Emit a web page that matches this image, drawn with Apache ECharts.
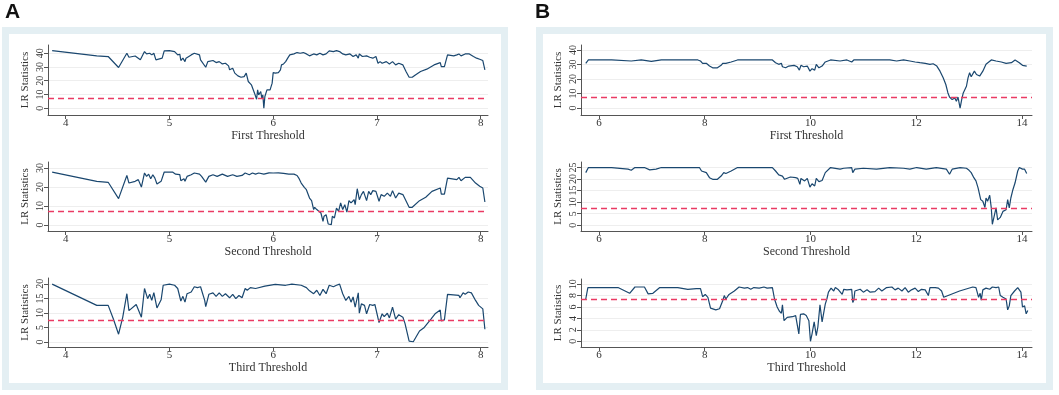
<!DOCTYPE html>
<html>
<head>
<meta charset="utf-8">
<script src="https://cdn.jsdelivr.net/npm/echarts@6/dist/echarts.min.js"></script>
<style>
html, body { margin: 0; padding: 0; background: #fff; }
#chart { width: 1059px; height: 395px; }
</style>
</head>
<body>
<div id="chart"></div>
<script>
// critical value (dashed line) and axis ticks
var critValue = 7.35;
var xTicksA = [4, 5, 6, 7, 8];
var xTicksB = [6, 8, 10, 12, 14];
var yTicksA1 = [0, 10, 20, 30, 40];
var yTicksA2 = [0, 10, 20, 30];
var yTicksA3 = [0, 5, 10, 15, 20];
var yTicksB1 = [0, 10, 20, 30, 40];
var yTicksB2 = [0, 5, 10, 15, 20, 25];
var yTicksB3 = [0, 2, 4, 6, 8, 10];
var names = ['First Threshold', 'Second Threshold', 'Third Threshold'];

// LR statistics, panel A
var a1 = [[3.87,41.9],[4.30,38.1],[4.41,37.6],[4.51,29.6],[4.59,40],[4.61,37.1],[4.67,38],[4.72,35.2],[4.76,41.2],[4.78,39.5],
  [4.81,40],[4.83,38.8],[4.85,40],[4.87,35.2],[4.88,36.4],[4.93,36.4],[4.95,41.7],[5.00,41.9],[5.05,41.2],[5.08,38.8],
  [5.10,39.3],[5.11,34.7],[5.13,36.4],[5.15,33.9],[5.16,36.4],[5.21,38.8],[5.24,40],[5.29,38.8],[5.30,35.2],[5.35,29.8],
  [5.37,33.9],[5.42,34.7],[5.45,33.2],[5.48,33.9],[5.51,32.2],[5.54,32.7],[5.57,30.8],[5.58,27.9],[5.61,29.1],[5.63,25.5],
  [5.64,26.7],[5.66,23.5],[5.69,22.5],[5.70,21.1],[5.72,23],[5.74,25.5],[5.76,19.4],[5.77,18.2],[5.79,17],[5.80,16.2],
  [5.82,10.9],[5.84,6.5],[5.85,13.3],[5.86,9.7],[5.88,12.1],[5.89,7.3],[5.90,9.7],[5.91,0],[5.92,8.5],[5.94,13.3],
  [5.95,12.1],[5.97,13.3],[5.99,18.2],[6.00,25.9],[6.02,25.5],[6.03,26.7],[6.05,25.9],[6.07,27.9],[6.08,31.5],[6.10,32.2],
  [6.12,33.9],[6.14,36.4],[6.16,38.8],[6.20,39.5],[6.23,40.5],[6.26,40],[6.29,40.5],[6.32,39.5],[6.35,38.1],[6.39,39.5],
  [6.42,38.8],[6.45,40],[6.48,38.8],[6.51,39.5],[6.54,41.7],[6.58,41.2],[6.61,41.9],[6.64,41.2],[6.67,39.5],[6.70,38.8],
  [6.74,39.5],[6.77,37.6],[6.80,38.8],[6.82,36.4],[6.83,39.5],[6.86,37.6],[6.90,38.1],[6.93,37.1],[6.96,36.4],[6.99,37.6],
  [7.01,32.7],[7.03,33.9],[7.05,32.7],[7.09,33.9],[7.12,32.2],[7.15,33.9],[7.18,31.5],[7.21,32.7],[7.25,31.5],[7.28,26.7],
  [7.31,22.5],[7.34,22.5],[7.37,24.2],[7.42,26.7],[7.48,28.4],[7.55,31.5],[7.61,33.2],[7.62,30.3],[7.65,30.3],[7.68,38.8],
  [7.74,38.1],[7.77,38.8],[7.79,39.5],[7.81,38.1],[7.85,39.5],[7.89,39.5],[7.93,37.6],[7.96,36.4],[7.99,35.6],[8.02,34.7],[8.04,27.9]];

var a2 = [[3.87,27.9],[4.30,23.0],[4.41,22.5],[4.51,13.9],[4.59,26.1],[4.61,22.1],[4.67,23.0],[4.70,23.9],[4.73,20],[4.76,27.4],
  [4.78,25.6],[4.80,26.8],[4.82,24.4],[4.84,26.5],[4.86,24.7],[4.88,21.6],[4.92,23],[4.95,27.9],[5.03,27.9],[5.06,26.8],
  [5.10,26.5],[5.11,23.3],[5.14,24.4],[5.15,23],[5.17,25.6],[5.21,26.5],[5.24,27.4],[5.29,26.8],[5.31,25.6],[5.35,22.6],
  [5.38,25.6],[5.42,26.5],[5.46,25.6],[5.51,26.8],[5.56,25.6],[5.61,26.5],[5.65,25.6],[5.70,26.1],[5.73,27.4],[5.77,26.5],
  [5.80,27.4],[5.83,26.8],[5.86,27.4],[5.91,26.8],[5.96,27.5],[6.00,27.4],[6.05,27.5],[6.10,27.2],[6.15,26.8],[6.20,26.8],
  [6.23,26.1],[6.25,24.4],[6.27,22.1],[6.30,19.8],[6.32,18.6],[6.35,14.2],[6.37,12.8],[6.39,8.1],[6.40,9.3],[6.42,8.1],
  [6.43,8.9],[6.46,6.3],[6.48,1.9],[6.49,4.6],[6.51,5.4],[6.53,0.5],[6.56,0.2],[6.57,4.6],[6.59,3.7],[6.61,8.9],
  [6.63,7.2],[6.65,11.6],[6.67,8.1],[6.69,10.7],[6.71,6.8],[6.73,12.8],[6.75,11.6],[6.78,13.3],[6.79,10.7],[6.81,19.1],
  [6.83,13.3],[6.85,16],[6.87,17.7],[6.90,12.8],[6.92,17.7],[6.94,16],[6.96,18.1],[6.99,17.7],[7.02,12.5],[7.04,16],
  [7.07,15.1],[7.10,16.8],[7.13,15.1],[7.15,18.1],[7.18,14.2],[7.21,16.8],[7.25,16],[7.26,16.8],[7.31,9.3],[7.34,9.3],
  [7.41,12.8],[7.47,14.6],[7.53,17.7],[7.61,19.5],[7.62,16.3],[7.65,16.3],[7.68,24.7],[7.77,23.9],[7.79,25.1],[7.81,23.3],
  [7.85,25.1],[7.90,25.1],[7.95,22.1],[7.99,20.4],[8.02,19.5],[8.04,12.1]];

var a3 = [[3.87,19.9],[4.30,12.6],[4.41,12.6],[4.46,7.9],[4.51,2.7],[4.55,8.5],[4.59,16.6],[4.61,10.8],[4.68,12.9],[4.73,8.5],
  [4.76,18.4],[4.79,14.9],[4.81,16.4],[4.83,14.3],[4.85,17],[4.88,11.7],[4.92,14.5],[4.94,19.5],[5.00,19.9],[5.05,19.5],
  [5.08,18.4],[5.11,14.1],[5.13,15.7],[5.15,13.7],[5.17,16.6],[5.21,17.2],[5.24,19],[5.27,18.7],[5.30,19],[5.34,14.3],
  [5.35,12.2],[5.38,16.4],[5.42,16.9],[5.45,15.7],[5.48,16.9],[5.51,15.7],[5.54,16.6],[5.58,15.2],[5.61,16.4],[5.64,14.9],
  [5.67,16],[5.70,15.2],[5.73,18.4],[5.75,17.8],[5.78,18.7],[5.83,18.4],[5.92,19.2],[6.02,19.8],[6.12,19.5],[6.18,19.9],
  [6.27,19.5],[6.32,18.7],[6.35,17.6],[6.39,16.6],[6.42,17.8],[6.45,16],[6.48,18.1],[6.51,16.6],[6.54,19.5],[6.58,19],
  [6.61,19.5],[6.64,19.9],[6.67,16.6],[6.70,14.3],[6.73,15.7],[6.75,13.7],[6.77,15.5],[6.79,12],[6.82,16.9],[6.83,9.9],
  [6.85,13.1],[6.88,12.6],[6.90,9.7],[6.93,12.9],[6.96,12.6],[6.98,12.9],[7.02,6.7],[7.05,9.7],[7.07,8.7],[7.10,9.9],
  [7.12,8.3],[7.15,12],[7.18,7.9],[7.21,9.4],[7.25,8.5],[7.27,6.4],[7.31,0.3],[7.35,0.1],[7.41,3.8],[7.45,4.8],
  [7.52,7.9],[7.56,9.7],[7.61,11],[7.62,7.3],[7.65,7.6],[7.68,16.4],[7.79,16],[7.80,15.2],[7.83,16.9],[7.85,16.4],
  [7.88,17.2],[7.91,16.9],[7.95,14.3],[7.98,12.6],[8.02,11.4],[8.04,4.4]];

// LR statistics, panel B
var b1 = [[5.75,30.8],[5.80,33.1],[6.24,33.1],[6.61,32.4],[6.80,33.1],[6.99,32.1],[7.18,33.1],[7.49,33.1],[7.87,33.1],[7.92,32.4],
  [7.96,30.8],[8.03,30.8],[8.09,28.9],[8.15,27.7],[8.24,27.7],[8.31,29.4],[8.34,30.8],[8.40,30.8],[8.50,31.7],[8.62,33.1],
  [8.87,33.1],[9.06,33.1],[9.28,33.1],[9.34,31.2],[9.40,30.1],[9.45,30.8],[9.47,28.4],[9.53,27.7],[9.59,28.9],[9.69,29.4],
  [9.75,28.4],[9.79,26.1],[9.82,29.4],[9.87,28.4],[9.94,28.9],[9.99,25.4],[10.03,27.1],[10.08,26.1],[10.11,30.1],[10.16,27.7],
  [10.22,28.9],[10.28,31.7],[10.38,33.1],[10.56,32.4],[10.69,33.1],[10.78,31.7],[10.82,33.1],[11.00,33.1],[11.25,33.1],[11.50,33.1],
  [11.63,32.4],[11.76,33.1],[11.88,32.4],[11.98,31.7],[12.07,31.2],[12.17,30.8],[12.26,30.1],[12.32,30.5],[12.39,28.9],[12.45,25.4],
  [12.51,20.8],[12.56,16.2],[12.60,10.4],[12.63,7.6],[12.68,5.8],[12.73,6.9],[12.76,4.6],[12.79,7.6],[12.83,0],[12.86,5.8],
  [12.89,10.4],[12.92,11.6],[12.95,15],[12.98,20.8],[13.01,24.3],[13.04,21.5],[13.10,25.4],[13.14,23.1],[13.20,22],[13.26,25.4],
  [13.32,30.1],[13.42,33.1],[13.51,32.4],[13.61,31.7],[13.70,30.8],[13.80,31.2],[13.87,33.1],[13.95,31.2],[14.01,29.4],[14.09,28.9]];

var b2 = [[5.75,22.8],[5.80,25],[6.24,25],[6.55,24.3],[6.61,23.8],[6.68,25],[6.86,25],[6.96,24],[7.08,24.3],[7.18,25],
  [7.49,25],[7.90,25],[7.94,23.5],[8.03,22.8],[8.09,20.6],[8.15,19.9],[8.24,19.9],[8.31,21.3],[8.36,22.8],[8.40,22.4],
  [8.50,23.5],[8.62,25],[8.87,25],[9.28,25],[9.34,23.5],[9.40,21.8],[9.47,21.3],[9.51,19.9],[9.62,20.9],[9.72,20.6],
  [9.76,20.3],[9.80,17.7],[9.82,20.3],[9.89,19.2],[9.94,20.3],[9.99,16.5],[10.03,18],[10.08,17],[10.11,20.3],[10.16,18.9],
  [10.22,19.4],[10.28,22.8],[10.38,25],[10.56,24.3],[10.63,24.7],[10.78,25],[10.80,22.8],[10.84,24.3],[11.00,24.7],[11.25,24.3],
  [11.50,25],[11.76,24.7],[11.88,24.3],[12.01,25],[12.19,24.3],[12.38,25],[12.57,24.3],[12.63,22.1],[12.68,24.3],[12.83,25],
  [12.95,24.7],[13.00,23.8],[13.04,22.8],[13.09,20.6],[13.13,19.2],[13.17,16.2],[13.22,11.1],[13.26,10.4],[13.30,7.7],[13.32,11.8],
  [13.35,10.4],[13.39,13],[13.42,7.5],[13.44,0.4],[13.48,4.5],[13.51,7.5],[13.54,2.3],[13.59,3.4],[13.64,6],[13.70,6.7],
  [13.73,11.1],[13.76,7.5],[13.79,11.8],[13.83,15.5],[13.87,18.4],[13.92,23.5],[13.95,25],[14.01,24.3],[14.05,24.3],[14.09,22.4]];

var b3 = [[5.75,7.4],[5.79,9.4],[6.36,9.4],[6.58,8.4],[6.68,9.5],[6.86,9.5],[6.93,8.3],[7.02,8.4],[7.15,9.4],[7.49,9.4],
  [7.68,9.1],[7.84,9.2],[7.92,9.2],[7.96,7.8],[8.01,8.2],[8.06,7.7],[8.11,5.8],[8.21,5.5],[8.28,5.7],[8.31,5.4],
  [8.34,7.1],[8.37,8.0],[8.40,7.4],[8.46,8.2],[8.56,8.8],[8.65,9.5],[8.75,9.3],[8.81,9.4],[8.87,9.1],[8.93,9.4],
  [9.03,9.3],[9.12,9.5],[9.18,9.3],[9.28,9.4],[9.32,7.4],[9.37,6.0],[9.41,5.3],[9.45,4.9],[9.47,6.4],[9.50,3.6],
  [9.56,4.2],[9.66,4.3],[9.72,4.5],[9.75,4.2],[9.78,1.3],[9.81,4.7],[9.87,4.8],[9.92,4.5],[9.97,3.6],[10.00,0],
  [10.03,1.3],[10.07,3.4],[10.11,1.0],[10.14,2.5],[10.18,6.4],[10.22,3.4],[10.25,3.6],[10.28,6.5],[10.31,7.4],[10.34,8.6],
  [10.39,9.3],[10.44,8.8],[10.47,9.4],[10.53,9.0],[10.56,9.1],[10.60,8.2],[10.63,9.1],[10.69,9.0],[10.72,9.3],[10.78,9.1],
  [10.80,6.8],[10.82,7.2],[10.84,8.8],[10.94,9.1],[11.00,8.6],[11.07,9.0],[11.13,8.6],[11.22,8.7],[11.29,9.3],[11.35,8.8],
  [11.44,9.4],[11.54,9.5],[11.60,9.0],[11.66,9.3],[11.73,8.8],[11.79,9.4],[11.85,8.6],[11.91,9.0],[11.98,9.3],[12.04,8.7],
  [12.10,9.1],[12.17,9.0],[12.23,8.0],[12.26,9.4],[12.36,9.4],[12.42,9.3],[12.48,8.8],[12.52,7.7],[12.82,8.8],[13.07,9.5],
  [13.13,9.4],[13.18,7.7],[13.21,8.4],[13.23,7.2],[13.26,9.0],[13.32,9.3],[13.39,9.1],[13.44,9.5],[13.51,9.4],[13.56,9.5],
  [13.59,8.0],[13.64,7.7],[13.67,8.0],[13.70,7.4],[13.73,5.5],[13.76,6.2],[13.79,8.0],[13.86,8.8],[13.92,9.4],[13.98,8.6],
  [14.01,6.0],[14.05,6.2],[14.08,4.8],[14.11,5.4]];

var chart = echarts.init(document.getElementById('chart'));

var serif = 'Liberation Serif, Times New Roman, serif';
var axisColor = '#555';
var lineColor = '#1a476f';
var critColor = '#ea3a63';
var panelColor = '#e4eff3';

// one entry per small plot
var plots = [
    {data: a1, left: 48, top: 45, width: 440, height: 70, xMin: 3.83, xMax: 8.07, xTicks: xTicksA, yMin: -5, yMax: 46, yTicks: yTicksA1, name: names[0]},
    {data: a2, left: 48, top: 162, width: 440, height: 69, xMin: 3.83, xMax: 8.07, xTicks: xTicksA, yMin: -3.2, yMax: 33.2, yTicks: yTicksA2, name: names[1]},
    {data: a3, left: 48, top: 278, width: 440, height: 69, xMin: 3.83, xMax: 8.07, xTicks: xTicksA, yMin: -1.7, yMax: 22, yTicks: yTicksA3, name: names[2]},
    {data: b1, left: 581, top: 45, width: 451, height: 70, xMin: 5.66, xMax: 14.19, xTicks: xTicksB, yMin: -4.8, yMax: 43.4, yTicks: yTicksB1, name: names[0]},
    {data: b2, left: 581, top: 162, width: 451, height: 69, xMin: 5.66, xMax: 14.19, xTicks: xTicksB, yMin: -2.5, yMax: 27.4, yTicks: yTicksB2, name: names[1]},
    {data: b3, left: 581, top: 279, width: 451, height: 68, xMin: 5.66, xMax: 14.19, xTicks: xTicksB, yMin: -1, yMax: 10.9, yTicks: yTicksB3, name: names[2]}
];

var grids = [], xAxes = [], yAxes = [], series = [];
plots.forEach(function (p, i) {
    grids.push({left: p.left, top: p.top, width: p.width, height: p.height, containLabel: false});
    xAxes.push({
        gridIndex: i, type: 'value', min: p.xMin, max: p.xMax,
        name: p.name, nameLocation: 'middle', nameGap: 15,
        nameTextStyle: {fontFamily: serif, fontSize: 12, color: '#333'},
        axisLine: {show: true, onZero: false, lineStyle: {color: axisColor, width: 1}},
        axisTick: {show: true, length: 4, customValues: p.xTicks, lineStyle: {color: axisColor}},
        axisLabel: {customValues: p.xTicks, fontFamily: serif, fontSize: 11, color: '#333', margin: 3},
        splitLine: {show: false}
    });
    yAxes.push({
        gridIndex: i, type: 'value', min: p.yMin, max: p.yMax,
        name: 'LR Statistics', nameLocation: 'middle', nameGap: 17, nameRotate: 90,
        nameTextStyle: {fontFamily: serif, fontSize: 11, color: '#333'},
        axisLine: {show: true, onZero: false, lineStyle: {color: axisColor, width: 1}},
        axisTick: {show: true, length: 4, customValues: p.yTicks, lineStyle: {color: axisColor}},
        axisLabel: {customValues: p.yTicks, rotate: 90, fontFamily: serif, fontSize: 10, color: '#333', margin: 3},
        splitLine: {show: true, lineStyle: {color: '#eeeeee', width: 1}}
    });
    series.push({
        type: 'line', xAxisIndex: i, yAxisIndex: i, data: p.data,
        showSymbol: false, symbol: 'none', animation: false,
        lineStyle: {color: lineColor, width: 1.2},
        markLine: {
            silent: true, symbol: 'none', animation: false,
            label: {show: false},
            lineStyle: {color: critColor, type: [6, 4], width: 1.3},
            data: [{yAxis: critValue}]
        }
    });
});

var option = {
    backgroundColor: '#fff',
    animation: false,
    grid: grids,
    xAxis: xAxes,
    yAxis: yAxes,
    series: series,
    graphic: [
        {type: 'rect', shape: {x: 5.5, y: 30.5, width: 499, height: 356}, style: {fill: 'none', stroke: panelColor, lineWidth: 7}, silent: true},
        {type: 'rect', shape: {x: 539.5, y: 30.5, width: 510, height: 356}, style: {fill: 'none', stroke: panelColor, lineWidth: 7}, silent: true},
        {type: 'text', left: 5, top: 2, style: {text: 'A', font: 'bold 21px Liberation Sans, Arial, sans-serif', fill: '#111'}},
        {type: 'text', left: 535, top: 2, style: {text: 'B', font: 'bold 21px Liberation Sans, Arial, sans-serif', fill: '#111'}}
    ]
};
chart.setOption(option, true);
</script>
</body>
</html>
